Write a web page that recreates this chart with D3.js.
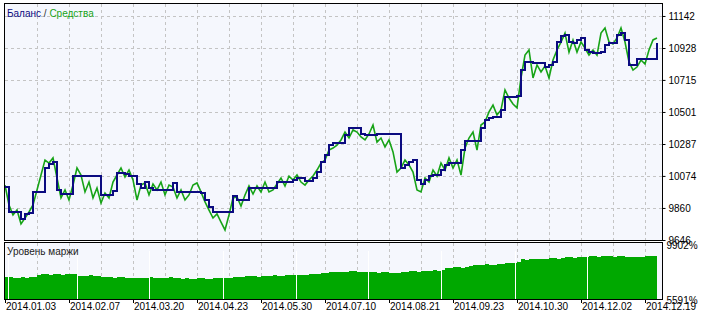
<!DOCTYPE html>
<html>
<head>
<meta charset="utf-8">
<script src="https://cdn.jsdelivr.net/npm/d3@7"></script>
<style>
  body { margin: 0; background: #fff; }
  text { font-family: "Liberation Sans", Arial, sans-serif; font-size: 10px; }
</style>
</head>
<body>
<div id="chart"></div>
<script>
// balance / equity, one value every 4 px step of the tester graph
var balance = [
  10000, 9833, 9833, 9833, 9786, 9820, 9826, 9967, 9967, 9967,
  10127, 10154, 10167, 9980, 9953, 9953, 9953, 10073, 10073, 10073,
  10073, 10073, 10073, 10073, 9947, 9947, 9947, 9973, 10093, 10093,
  10087, 10073, 10073, 10020, 9993, 10033, 9993, 9980, 9980, 9980,
  9980, 9980, 10027, 9967, 9967, 9967, 9967, 9967, 9967, 9960,
  9913, 9866, 9833, 9833, 9833, 9833, 9833, 9940, 9913, 9913,
  9913, 9993, 9993, 9993, 9993, 9993, 9993, 9993, 10033, 10033,
  10033, 10033, 10047, 10060, 10060, 10040, 10040, 10060, 10100, 10167,
  10214, 10280, 10294, 10294, 10294, 10347, 10394, 10394, 10394, 10354,
  10347, 10347, 10347, 10354, 10354, 10354, 10354, 10354, 10354, 10127,
  10147, 10167, 10180, 10047, 10020, 10047, 10073, 10080, 10080, 10113,
  10147, 10160, 10160, 10160, 10247, 10307, 10307, 10307, 10307, 10394,
  10447, 10461, 10467, 10467, 10514, 10601, 10601, 10601, 10608, 10781,
  10835, 10835, 10828, 10828, 10828, 10801, 10815, 10835, 10968, 11008,
  11015, 10968, 10962, 10982, 10995, 10915, 10901, 10895, 10895, 10901,
  10948, 10962, 10962, 11015, 11028, 10982, 10815, 10815, 10855, 10855,
  10855, 10855, 10855, 10962
];

var equity = [
  10013, 9880, 9813, 9846, 9753, 9793, 9833, 9880, 9980, 10080,
  10180, 10160, 10194, 10060, 9927, 9980, 9913, 10013, 10127, 10080,
  9967, 10033, 9927, 9993, 9893, 9960, 9927, 10033, 10080, 10127,
  10067, 10113, 10047, 9913, 10013, 10027, 9947, 10020, 9980, 10033,
  9947, 10013, 10000, 9927, 9980, 9913, 9947, 10013, 10027, 9967,
  9900, 9846, 9793, 9820, 9766, 9713, 9813, 9927, 9933, 9873,
  9947, 10007, 9953, 10007, 9967, 10033, 9967, 9980, 10020, 10060,
  10007, 10073, 10047, 10080, 10033, 10013, 10047, 10073, 10113, 10160,
  10180, 10247, 10260, 10280, 10314, 10367, 10327, 10381, 10367, 10334,
  10314, 10354, 10414, 10300, 10327, 10267, 10314, 10234, 10100, 10127,
  10180, 10147, 10100, 9980, 9967, 10060, 10033, 10113, 10073, 10160,
  10113, 10194, 10127, 10180, 10080, 10260, 10327, 10367, 10247, 10414,
  10434, 10501, 10547, 10481, 10514, 10648, 10594, 10554, 10528, 10728,
  10881, 10915, 10728, 10815, 10768, 10808, 10728, 10848, 10915, 10968,
  11028, 10901, 10982, 10901, 10968, 10928, 10881, 10915, 10881, 11028,
  11062, 10968, 10955, 10995, 11062, 10968, 10835, 10781, 10801, 10848,
  10821, 10915, 10982, 10995
];

// margin level, %
var marginLevel = [
  7316, 7316, 7237, 7237, 7316, 7237, 7316, 7316, 7473, 7551,
  7551, 7473, 7551, 7551, 7473, 7551, 7551, 7551, 7394, 7394,
  7394, 7473, 7394, 7394, 7316, 7316, 7316, 7237, 7316, 7316,
  7237, 7237, 7237, 7237, 7237, 7237, 7316, 7237, 7237, 7237,
  7237, 7316, 7237, 7237, 7159, 7237, 7159, 7159, 7237, 7237,
  7159, 7159, 7237, 7237, 7237, 7237, 7237, 7316, 7316, 7316,
  7394, 7394, 7394, 7316, 7394, 7394, 7394, 7473, 7394, 7394,
  7473, 7473, 7473, 7473, 7473, 7473, 7551, 7551, 7551, 7629,
  7629, 7708, 7708, 7708, 7708, 7708, 7786, 7786, 7708, 7708,
  7708, 7708, 7708, 7629, 7708, 7708, 7629, 7629, 7629, 7708,
  7708, 7786, 7786, 7708, 7786, 7786, 7786, 7865, 7786, 7865,
  8021, 8021, 8100, 8100, 8021, 8100, 8178, 8257, 8257, 8257,
  8335, 8257, 8257, 8335, 8335, 8413, 8413, 8413, 8492, 8727,
  8649, 8727, 8727, 8727, 8727, 8727, 8805, 8805, 8727, 8805,
  8884, 8884, 8805, 8884, 8884, 8884, 8962, 8962, 8884, 8962,
  8962, 8962, 8884, 8962, 8962, 8884, 8884, 8884, 8884, 8884,
  8962, 8962, 8962, 8962
];
// points where margin level drops out (white gaps)
var marginBreaks = [0.75, 18, 36, 54.5, 72.75, 90.75, 109, 127.5, 145.5];

var yTicks = [9646, 9860, 10074, 10287, 10501, 10715, 10928, 11142];
var marginTicks = [9902, 5591];
var dateTicks = [0, 16, 32, 48, 64, 80, 96, 112, 128, 144, 160];
var dateLabels = ["2014.01.03", "2014.02.07", "2014.03.20", "2014.04.23", "2014.05.30",
  "2014.07.10", "2014.08.21", "2014.09.23", "2014.10.30", "2014.12.02", "2014.12.19"];

var W = 707, H = 316;
var left = 5, right = 662;
var top1 = 4, bot1 = 240, top2 = 243, bot2 = 299;

var svg = d3.select("#chart").append("svg")
  .attr("width", W).attr("height", H);

var x = d3.scaleLinear().domain([0, 163]).range([left, 657]);
var y = d3.scaleLinear().domain([9646, 11222]).range([bot1, top1]);
var ym = d3.scaleLinear().domain([5591, 9902]).range([bot2, top2 + 1]);

var gridCol = "#c4c4c4";
var vGrid = d3.range(8, 164, 8);

// panel backgrounds
svg.append("rect").attr("x", left).attr("y", top1)
  .attr("width", right - left).attr("height", bot1 - top1).attr("fill", "#f5f7fd");
svg.append("rect").attr("x", left).attr("y", top2)
  .attr("width", right - left).attr("height", bot2 - top2).attr("fill", "#f5f7fd");

// grid main
svg.append("g").selectAll("line").data(yTicks.slice(1)).enter().append("line")
  .attr("x1", left).attr("x2", right)
  .attr("y1", function(d) { return Math.round(y(d)) + 0.5; })
  .attr("y2", function(d) { return Math.round(y(d)) + 0.5; })
  .attr("stroke", gridCol).attr("stroke-dasharray", "3,3");
svg.append("g").selectAll("line").data(vGrid).enter().append("line")
  .attr("x1", function(d) { return Math.round(x(d)) + 0.5; })
  .attr("x2", function(d) { return Math.round(x(d)) + 0.5; })
  .attr("y1", top1).attr("y2", bot1)
  .attr("stroke", gridCol).attr("stroke-dasharray", "3,3");
svg.append("g").selectAll("line").data(vGrid).enter().append("line")
  .attr("x1", function(d) { return Math.round(x(d)) + 0.5; })
  .attr("x2", function(d) { return Math.round(x(d)) + 0.5; })
  .attr("y1", top2).attr("y2", bot2)
  .attr("stroke", gridCol).attr("stroke-dasharray", "3,3");

// equity
var eqLine = d3.line()
  .x(function(d, i) { return x(i); })
  .y(function(d) { return y(d); });
svg.append("path").datum(equity)
  .attr("d", eqLine)
  .attr("fill", "none").attr("stroke", "#17a317").attr("stroke-width", 1.6);

// balance
var balLine = d3.line()
  .x(function(d, i) { return x(i); })
  .y(function(d) { return y(d); })
  .curve(d3.curveStepAfter);
svg.append("path").datum(balance)
  .attr("d", balLine)
  .attr("fill", "none").attr("stroke", "#0b0b80").attr("stroke-width", 2);

// margin level area
var mArea = d3.area()
  .x(function(d, i) { return x(i); })
  .y0(bot2)
  .y1(function(d) { return ym(d); })
  .curve(d3.curveStepAfter);
svg.append("path").datum(marginLevel)
  .attr("d", mArea).attr("fill", "#00a800");
svg.append("g").selectAll("line").data(marginBreaks).enter().append("line")
  .attr("x1", function(d) { return Math.round(x(d)) + 0.5; })
  .attr("x2", function(d) { return Math.round(x(d)) + 0.5; })
  .attr("y1", top2 + 8).attr("y2", bot2)
  .attr("stroke", "#ffffff").attr("stroke-width", 1);

// frames
svg.append("rect").attr("x", left - 0.5).attr("y", top1 - 0.5)
  .attr("width", right - left + 1).attr("height", bot1 - top1 + 1)
  .attr("fill", "none").attr("stroke", "#000");
svg.append("rect").attr("x", left - 0.5).attr("y", top2 - 0.5)
  .attr("width", right - left + 1).attr("height", bot2 - top2 + 1)
  .attr("fill", "none").attr("stroke", "#000");

// right axis
var yAxis = d3.axisRight(y).tickValues(yTicks).tickSize(3).tickPadding(3)
  .tickFormat(d3.format("d"));
var ga = svg.append("g").attr("transform", "translate(" + (right + 0.5) + ",0)").call(yAxis);
ga.select(".domain").remove();
ga.selectAll("text").attr("fill", "#000").style("font-size", "10px")
  .style("font-family", "'Liberation Sans', Arial, sans-serif");

var gm = svg.append("g").attr("transform", "translate(" + (right + 0.5) + ",0)");
gm.selectAll("text").data(marginTicks).enter().append("text")
  .attr("x", 4)
  .attr("y", function(d) { return ym(d) + 5; })
  .text(function(d) { return d + "%"; });

// bottom axis
var gx = svg.append("g");
gx.selectAll("line").data(dateTicks).enter().append("line")
  .attr("x1", function(d) { return Math.round(x(d)) + 0.5; })
  .attr("x2", function(d) { return Math.round(x(d)) + 0.5; })
  .attr("y1", bot2).attr("y2", bot2 + 4)
  .attr("stroke", "#000");
gx.selectAll("text").data(dateTicks).enter().append("text")
  .attr("x", function(d) { return x(d) + 1; })
  .attr("y", 310)
  .text(function(d, i) { return dateLabels[i]; });

// legends
var lg = svg.append("text").attr("x", 7).attr("y", 17);
lg.append("tspan").attr("fill", "#0b0b80").text("Баланс");
lg.append("tspan").attr("fill", "#333").text(" / ");
lg.append("tspan").attr("fill", "#17a317").text("Средства");

svg.append("text").attr("x", 7).attr("y", 255).attr("fill", "#222").text("Уровень маржи");
</script>
</body>
</html>
